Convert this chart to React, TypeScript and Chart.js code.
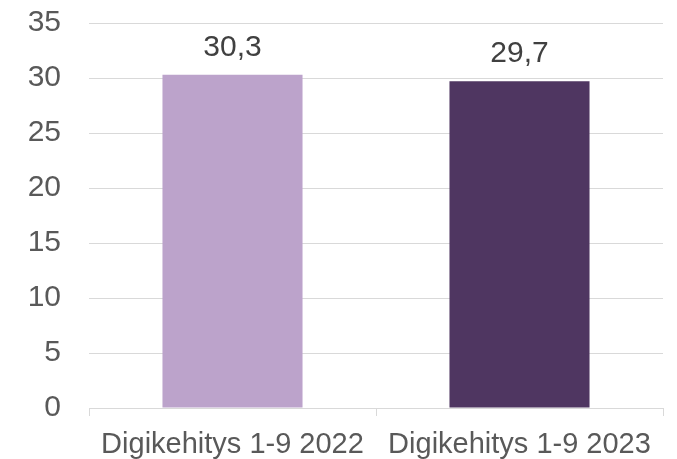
import React, { useEffect, useRef } from "react";
import { Chart, registerables } from "chart.js";

Chart.register(...registerables);

const categories = ["Digikehitys 1-9 2022", "Digikehitys 1-9 2023"];
const values = [30.3, 29.7];
const valueLabels = ["30,3", "29,7"];
const barColors = ["#BCA3CB", "#4F3661"];
const yMin = 0;
const yMax = 35;
const yStep = 5;

const FONT = "'Liberation Sans', Arial, sans-serif";

const valueLabelPlugin = {
  id: "valueLabels",
  afterDatasetsDraw(chart: any) {
    const ctx = chart.ctx;
    const meta = chart.getDatasetMeta(0);
    ctx.save();
    ctx.font = `30px ${FONT}`;
    ctx.fillStyle = "#404040";
    ctx.textAlign = "center";
    ctx.textBaseline = "alphabetic";
    meta.data.forEach((bar: any, i: number) => {
      ctx.fillText(valueLabels[i], bar.x, bar.y - 19);
    });
    ctx.restore();
  },
};

export default function App() {
  const ref = useRef<HTMLCanvasElement | null>(null);
  useEffect(() => {
    if (!ref.current) return;
    const chart = new Chart(ref.current, {
      type: "bar",
      data: {
        labels: categories,
        datasets: [
          {
            data: values,
            backgroundColor: barColors,
            borderWidth: 0,
            barPercentage: 0.488,
            categoryPercentage: 1,
          },
        ],
      },
      options: {
        animation: false,
        responsive: false,
        maintainAspectRatio: false,
        layout: { padding: { top: 0, right: 14, left: 0, bottom: 0 } },
        plugins: {
          legend: { display: false },
          tooltip: { enabled: false },
        },
        scales: {
          x: {
            offset: true,
            grid: {
              offset: true,
              drawOnChartArea: false,
              drawTicks: true,
              tickLength: 8,
              color: "#D9D9D9",
              lineWidth: 1,
            },
            border: { display: true, color: "#D9D9D9", width: 1 },
            ticks: {
              color: "#595959",
              font: { family: FONT, size: 29 },
              padding: 12,
              maxRotation: 0,
              autoSkip: false,
            },
            afterFit: (scale: any) => {
              scale.height = 51;
            },
          },
          y: {
            min: yMin,
            max: yMax,
            grid: {
              color: "#D9D9D9",
              drawTicks: true,
              tickLength: 23,
              tickColor: "rgba(0,0,0,0)",
              lineWidth: 1,
            },
            border: { display: false },
            ticks: {
              stepSize: yStep,
              color: "#595959",
              font: { family: FONT, size: 30 },
              padding: 5,
            },
            afterFit: (scale: any) => {
              scale.width = 89;
            },
          },
        },
      },
      plugins: [valueLabelPlugin],
    });
    return () => chart.destroy();
  }, []);
  return (
    <div style={{ position: "fixed", left: 0, top: 0, width: 677, height: 459, background: "#fff" }}>
      <canvas ref={ref} width={677} height={459} style={{ width: 677, height: 459 }} />
    </div>
  );
}
